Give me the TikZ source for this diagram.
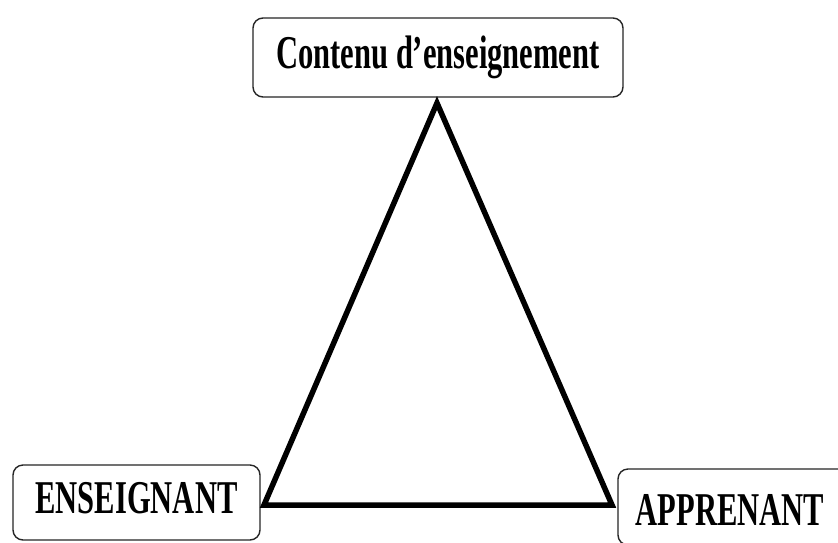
\documentclass[tikz,border=0pt]{standalone}
\usepackage{fontspec}
\setmainfont{Liberation Serif}
\newcommand{\lbl}[1]{\scalebox{0.65}[1]{\bfseries\fontsize{47}{50}\selectfont #1}}
\begin{document}
\begin{tikzpicture}[x=1pt,y=-1pt,
  box/.style={draw=black!85, line width=1.4pt, rounded corners=10pt, inner sep=0pt, fill=white},
  tri/.style={line width=5.5pt, line join=miter, miter limit=20}]
\useasboundingbox (0,0) rectangle (838,542);
\fill[white] (0,0) rectangle (838,542);
\node[box, minimum width=370pt, minimum height=79pt, text height=30pt, text depth=9pt] (contenu) at (438,57.5) {\lbl{Contenu d’enseignement}};
\node[box, minimum width=247pt, minimum height=75pt, text height=30pt, text depth=9pt] (ens) at (136.5,502.5) {\lbl{ENSEIGNANT}};
\node[box, minimum width=244pt, minimum height=76pt, text height=40pt, text depth=3pt] (app) at (740,507) {\lbl{APPRENANT}\hspace*{20pt}};
\coordinate (apex) at (437,103);
\coordinate (bl) at (264,505);
\coordinate (br) at (612,505);
\draw[tri] (apex) -- (br) -- (bl) -- cycle;
\end{tikzpicture}
\end{document}
